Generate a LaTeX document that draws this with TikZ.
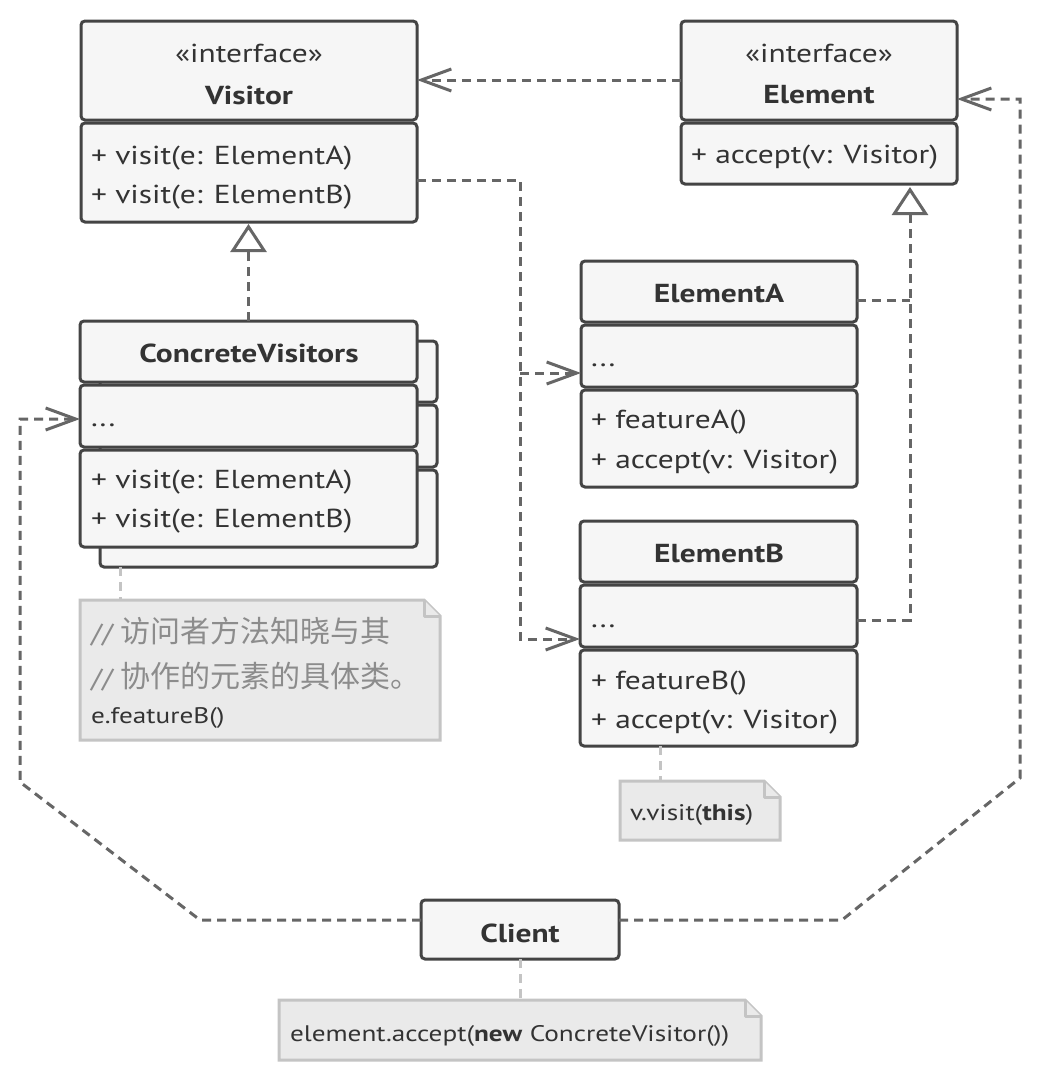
\documentclass[tikz,border=0pt]{standalone}
\usepackage{fontspec}
\setmainfont[FakeStretch=1.21]{PT Sans}
\newfontfamily\cjk{Noto Sans CJK SC}
\usetikzlibrary{arrows.meta}
\definecolor{boxline}{HTML}{444444}
\definecolor{boxfill}{HTML}{F6F6F6}
\definecolor{txt}{HTML}{333333}
\definecolor{conn}{HTML}{666666}
\definecolor{notefill}{HTML}{EAEAEA}
\definecolor{noteline}{HTML}{C4C4C4}
\definecolor{notetxt}{HTML}{8C8C8C}
\newcommand\umlsec[5]{\node[sec, minimum width={(#4-#2)*1pt}, minimum height={(#5-#3)*1pt}] (#1) at ({(#2+#4)/2},{(#3+#5)/2}) {};}
\newcommand\notebox[5]{%
  \node[minimum width={(#4-#2)*1pt}, minimum height={(#5-#3)*1pt}, inner sep=0, outer sep=0] (#1) at ({(#2+#4)/2},{(#3+#5)/2}) {};
  \draw[notestyle] (#2,#3) -- ({#4-16},#3) -- (#4,{#3+16}) -- (#4,#5) -- (#2,#5) -- cycle;
  \draw[notestyle, line join=round] ({#4-16},#3) -- ({#4-16},{#3+16}) -- (#4,{#3+16});}
\tikzset{
  sec/.style={draw=boxline, fill=boxfill, line width=3pt, rounded corners=4pt, inner sep=0, outer sep=0},
  lbl/.style={text=txt, inner sep=0, outer sep=0, anchor=base west, font=\fontsize{26}{30}\selectfont},
  ttl/.style={text=txt, inner sep=0, outer sep=0, anchor=base, font=\fontsize{26}{30}\selectfont\bfseries},
  ster/.style={text=txt, inner sep=0, outer sep=0, anchor=base, font=\fontsize{26}{30}\selectfont},
  notestyle/.style={draw=noteline, fill=notefill, line width=3pt},
  ntxt/.style={inner sep=0, outer sep=0, anchor=base west, font=\fontsize{22.5}{26}\selectfont},
  dep/.style={draw=conn, line width=3pt, dash pattern=on 9pt off 6pt, -{Straight Barb[length=30pt,width=22pt,line width=3pt]}},
  dline/.style={draw=conn, line width=3pt, dash pattern=on 9pt off 6pt},
  real/.style={draw=conn, line width=3pt, dash pattern=on 9pt off 6pt, -{Triangle[open, length=28pt, width=36pt, line width=3pt, fill=white]}},
  nline/.style={draw=noteline, line width=3pt, dash pattern=on 9pt off 6pt},
}
\begin{document}
\begin{tikzpicture}[x=1pt, y=-1pt]
\fill[white] (0,0) rectangle (1040,1080);
\useasboundingbox (0,0) rectangle (1040,1080);
% Visitor
\umlsec{visH}{81}{21}{417}{120}
\umlsec{visM}{81}{123}{417}{222}
\node[ster] (visS) at (249,62) {«interface»};
\node[ttl] (visT) at (249,104) {Visitor};
\node[lbl] (visM1) at (91,164) {+ visit(e: ElementA)};
\node[lbl] (visM2) at (91,203) {+ visit(e: ElementB)};
% Element
\umlsec{elemH}{681}{21}{957}{120}
\umlsec{elemM}{681}{123}{957}{184}
\node[ster] (elemS) at (819,62) {«interface»};
\node[ttl] (elemT) at (819,103) {Element};
\node[lbl] (elemM1) at (691,163) {+ accept(v: Visitor)};
% ConcreteVisitors back
\umlsec{cvbH}{100}{341}{437}{402}
\umlsec{cvbD}{100}{405}{437}{467}
\umlsec{cvbM}{100}{470}{437}{567}
% ConcreteVisitors front
\umlsec{cvH}{80}{321}{417}{382}
\umlsec{cvD}{80}{385}{417}{447}
\umlsec{cvM}{80}{450}{417}{547}
\node[ttl] (cvT) at (249,362) {ConcreteVisitors};
\node[lbl] (cvD1) at (91,426) {...};
\node[lbl] (cvM1) at (91,488) {+ visit(e: ElementA)};
\node[lbl] (cvM2) at (91,527) {+ visit(e: ElementB)};
% ElementA
\umlsec{eaH}{581}{261}{857}{322}
\umlsec{eaD}{581}{325}{857}{387}
\umlsec{eaM}{581}{390}{857}{487}
\node[ttl] (eaT) at (719,302) {ElementA};
\node[lbl] (eaD1) at (591,366) {...};
\node[lbl] (eaM1) at (591,428) {+ featureA()};
\node[lbl] (eaM2) at (591,468) {+ accept(v: Visitor)};
% ElementB
\umlsec{ebH}{580}{521}{857}{582}
\umlsec{ebD}{580}{585}{857}{647}
\umlsec{ebM}{580}{650}{857}{746}
\node[ttl] (ebT) at (719,562) {ElementB};
\node[lbl] (ebD1) at (591,627) {...};
\node[lbl] (ebM1) at (591,689) {+ featureB()};
\node[lbl] (ebM2) at (591,728) {+ accept(v: Visitor)};
% Client
\umlsec{client}{421}{900}{619}{959}
\node[ttl] (clientT) at (520,942) {Client};
% Notes
\notebox{cvNote}{80}{600}{440}{740}
\node[ntxt, text=notetxt] (cvN1) at (91,642) {{\fontsize{26}{30}\selectfont //} {\cjk\fontsize{30}{32}\selectfont 访问者方法知晓与其}};
\node[ntxt, text=notetxt] (cvN2) at (91,687) {{\fontsize{26}{30}\selectfont //} {\cjk\fontsize{30}{32}\selectfont 协作的元素的具体类。}};
\node[ntxt, text=txt] (cvN3) at (91,723) {e.featureB()};
\notebox{ebNote}{620}{781}{780}{840}
\node[ntxt, text=txt] (ebN1) at (630,820) {v.visit(\textbf{this})};
\notebox{clNote}{279}{1000}{761}{1060}
\node[ntxt, text=txt] (clN1) at (290,1041) {element.accept(\textbf{new} ConcreteVisitor())};
% note links
\draw[nline] (cvbM.south -| 120,0) -- (cvNote.north -| 120,0);
\draw[nline] (ebM.south -| 660,0) -- (ebNote.north -| 660,0);
\draw[nline] (client.south) -- (clNote.north);
% connectors
\coordinate (a1) at (681,80);
\draw[dep] (a1 -| elemH.west) -- (a1 -| visH.east);
\coordinate (j1) at (520,180);
\coordinate (j2) at (520,373);
\coordinate (j3) at (520,639);
\draw[dep] (j1 -| visM.east) -- (j1) -- (j3) -- (j3 -| ebD.west);
\draw[dep] (j2) -- (j2 -| eaD.west);
\draw[real, shorten >=2pt] (cvH.north) -- (cvH.north |- visM.south);
\coordinate (k1) at (910,300);
\coordinate (k2) at (910,620);
\draw[real, shorten >=3pt] (k2 -| ebD.east) -- (k2) -- (k2 |- elemM.south);
\draw[dline] (k1 -| eaH.east) -- (k1);
\coordinate (c1) at (200,920);
\coordinate (c2) at (20,782);
\coordinate (c3) at (20,419);
\draw[dep] (c1 -| client.west) -- (c1) -- (c2) -- (c3) -- (c3 -| cvD.west);
\coordinate (d1) at (842,920);
\coordinate (d2) at (1020,778);
\coordinate (d3) at (1020,99);
\draw[dep] (d1 -| client.east) -- (d1) -- (d2) -- (d3) -- (d3 -| elemH.east);
\end{tikzpicture}
\end{document}
